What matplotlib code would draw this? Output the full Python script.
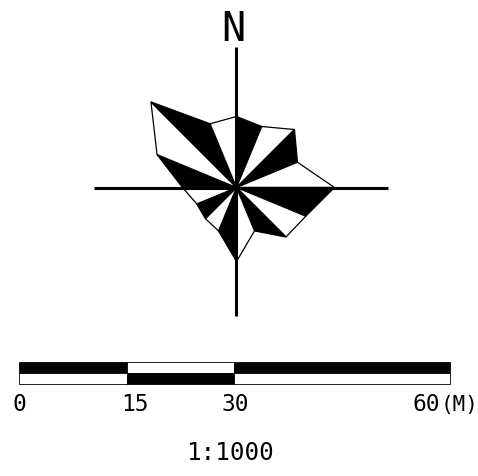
"""Wind rose with north arrow and scale bar."""
import matplotlib

matplotlib.use("Agg")
import matplotlib.pyplot as plt
import numpy as np

# radius per direction, clockwise from north (pixels of the drawing)
directions = ["N", "NNE", "NE", "ENE", "E", "ESE", "SE", "SSE",
              "S", "SSW", "SW", "WSW", "W", "WNW", "NW", "NNW"]
radii = [71, 66, 82, 66, 98, 75, 70, 47, 74, 47, 44, 43, 54, 86, 121, 69]

# scale bar
scale_ticks = [0, 15, 30, 60]
scale_labels = ["0", "15", "30", "60"]

W, H = 478, 477
CX, CY = 236.5, 188.5
BAR_X0, PX_PER_M = 19, 431 / 60
FONT = ["DejaVu Sans Mono"]

fig = plt.figure(figsize=(W / 100, H / 100), dpi=100)
ax = fig.add_axes([0, 0, 1, 1])
ax.set_xlim(0, W)
ax.set_ylim(H, 0)
ax.axis("off")

# petals, every other wedge black
angles = np.deg2rad(np.arange(len(radii)) * 22.5)
xs = CX + np.array(radii) * np.sin(angles)
ys = CY - np.array(radii) * np.cos(angles)
for i in range(len(radii)):
    j = (i + 1) % len(radii)
    ax.fill([CX, xs[i], xs[j]], [CY, ys[i], ys[j]],
            fc="black" if i % 2 == 0 else "white", ec="black", lw=0.9, zorder=2)

# cross hair
ax.plot([CX, CX], [48, 317], color="black", lw=2.2, solid_capstyle="butt", zorder=3)
ax.plot([94, 388], [CY, CY], color="black", lw=2.2, solid_capstyle="butt", zorder=3)
ax.text(233, 41, "N", family=FONT, fontsize=29, ha="center", va="baseline")

# scale bar, two rows with alternating fill
tick_px = [BAR_X0 + t * PX_PER_M for t in scale_ticks]
for i in range(len(tick_px) - 1):
    x0, x1 = tick_px[i], tick_px[i + 1]
    top = "black" if i % 2 == 0 else "white"
    bottom = "white" if i % 2 == 0 else "black"
    ax.fill([x0, x1, x1, x0], [362.5, 362.5, 374, 374], fc=top, ec="black", lw=0.6)
    ax.fill([x0, x1, x1, x0], [374, 374, 384.5, 384.5], fc=bottom, ec="black", lw=0.6)

# labels sit off their ticks in the original
label_px = [19, 135, 235, 426]
for px, lab in zip(label_px, scale_labels):
    ax.text(px, 411.5, lab, family=FONT, fontsize=16.5, ha="center", va="baseline")
ax.text(460, 411.5, "(M)", family=FONT, fontsize=15, ha="center", va="baseline")
ax.text(229.5, 460, "1:1000", family=FONT, fontsize=17.5, ha="center", va="baseline")

fig.savefig("out.png", dpi=100)
